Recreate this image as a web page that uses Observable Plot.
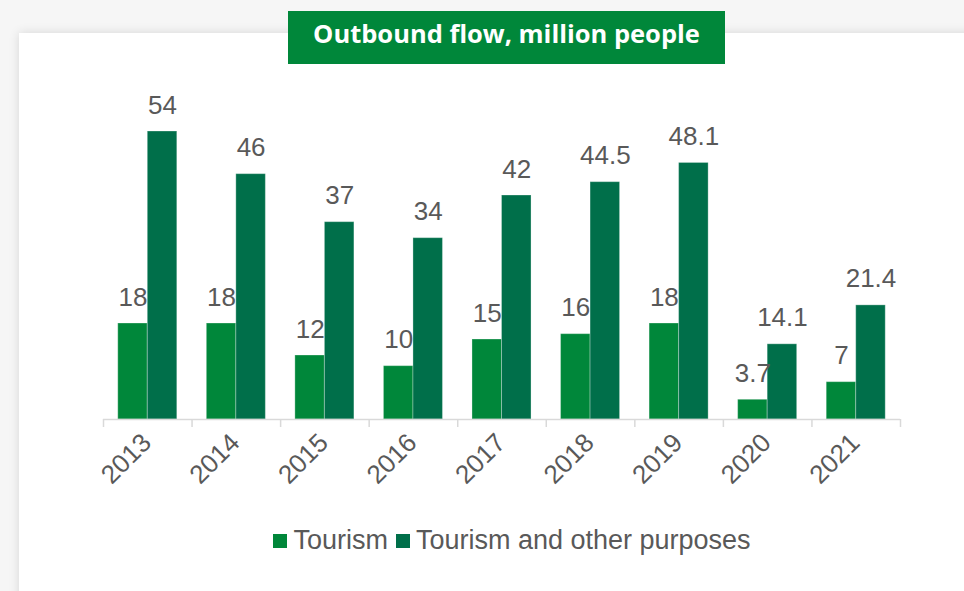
<!DOCTYPE html>
<html>
<head>
<meta charset="utf-8">
<script src="https://cdn.jsdelivr.net/npm/d3@7"></script>
<script src="https://cdn.jsdelivr.net/npm/@observablehq/plot@0.6"></script>
<style>
  html, body { margin: 0; padding: 0; }
  body { width: 964px; height: 591px; background: #f6f6f6; overflow: hidden; font-family: "Liberation Sans", Arial, sans-serif; }
  #wrap { position: relative; width: 964px; height: 591px; }
  #card { position: absolute; left: 19px; top: 33px; width: 960px; height: 570px; background: #fff; box-shadow: 0 0 10px rgba(0,0,0,0.13); }
  #title { position: absolute; left: 288px; top: 11px; width: 437px; height: 53px; background: #00873a; color: #fff;
           font-family: "Open Sans", sans-serif; font-weight: 700; font-size: 25.5px; line-height: 45px; text-align: center; z-index: 3; }
  #chart { position: absolute; left: 0; top: 0; z-index: 2; }
  #legend { position: absolute; left: 6px; top: 524px; width: 1020px; z-index: 2; display: flex; justify-content: center; }
  .leg-swatch { margin-right: 8px !important; font-size: 27px; color: #595959; font-family: "Liberation Sans", Arial, sans-serif; }
  .leg-swatch > svg { margin-right: 6px !important; }
</style>
</head>
<body>
<div id="wrap">
  <div id="card"></div>
  <div id="title">Outbound flow, million people</div>
  <div id="chart"></div>
  <div id="legend"></div>
</div>
<script>
const years = ["2013","2014","2015","2016","2017","2018","2019","2020","2021"];
const tourism = [18, 18, 12, 10, 15, 16, 18, 3.7, 7];
const tourismOther = [54, 46, 37, 34, 42, 44.5, 48.1, 14.1, 21.4];
const seriesNames = ["Tourism", "Tourism and other purposes"];
const seriesColors = ["#00873a", "#006f4a"];

const rowsA = years.map((y, i) => ({year: y, value: tourism[i]}));
const rowsB = years.map((y, i) => ({year: y, value: tourismOther[i]}));

const W = 964, H = 500, mL = 103, mR = 64;
const band = (W - mL - mR) / years.length;
const half = band / 2;
const barW = band / 3;
const edge = (band - 2 * barW) / 2;

const chart = Plot.plot({
  width: W,
  height: H,
  marginLeft: mL,
  marginRight: mR,
  marginTop: 99,
  marginBottom: 81,
  style: {background: "transparent", fontFamily: "Liberation Sans, Arial, sans-serif", overflow: "visible"},
  x: {domain: years, padding: 0, round: false, label: null},
  y: {domain: [0, 60], axis: null},
  marks: [
    Plot.barY(rowsA, {x: "year", y: "value", fill: seriesColors[0], insetLeft: edge, insetRight: edge + barW, stroke: "#ffffff", strokeOpacity: 0.3, strokeWidth: 1}),
    Plot.barY(rowsB, {x: "year", y: "value", fill: seriesColors[1], insetLeft: edge + barW, insetRight: edge, stroke: "#ffffff", strokeOpacity: 0.3, strokeWidth: 1}),
    Plot.ruleY([0], {stroke: "#d9d9d9", strokeWidth: 1.5}),
    Plot.axisX(years, {text: null, tickSize: 8, dx: -half, stroke: "#d9d9d9", strokeWidth: 1.5}),
    Plot.axisX([years[years.length - 1]], {text: null, tickSize: 8, dx: half, stroke: "#d9d9d9", strokeWidth: 1.5}),
    Plot.axisX({tickSize: 0, tickPadding: 19, tickRotate: -45, textAnchor: "end", fontSize: 26, fill: "#595959", dx: -1, label: null}),
    Plot.text(rowsA, {x: "year", y: "value", text: d => String(d.value), dx: -barW / 2, dy: -18, lineAnchor: "bottom", fontSize: 26, fill: "#595959"}),
    Plot.text(rowsB, {x: "year", y: "value", text: d => String(d.value), dx: barW / 2, dy: -18, lineAnchor: "bottom", fontSize: 26, fill: "#595959"})
  ]
});
document.getElementById("chart").appendChild(chart);

const legend = Plot.legend({
  color: {type: "ordinal", domain: seriesNames, range: seriesColors},
  swatchSize: 14,
  className: "leg"
});
document.getElementById("legend").appendChild(legend);
</script>
</body>
</html>
